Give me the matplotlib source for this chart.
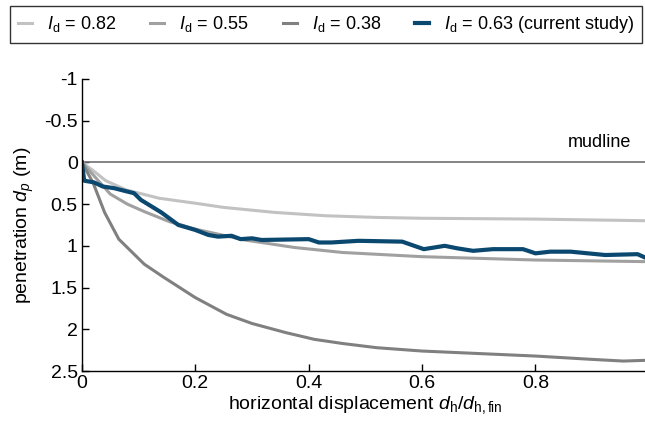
import matplotlib
matplotlib.use('Agg')
import matplotlib.pyplot as plt
from matplotlib.ticker import FuncFormatter

plt.rcParams['font.family'] = ['Liberation Sans', 'DejaVu Sans']
plt.rcParams['mathtext.fontset'] = 'custom'
plt.rcParams['mathtext.rm'] = 'Liberation Sans'
plt.rcParams['mathtext.it'] = 'Liberation Sans:italic'
plt.rcParams['axes.unicode_minus'] = False

# I_d = 0.82
x_082 = [0, 0.02, 0.042, 0.078, 0.136, 0.2, 0.25, 0.34, 0.43, 0.52, 0.6, 0.8, 1.0]
y_082 = [0, 0.1, 0.22, 0.33, 0.43, 0.49, 0.54, 0.6, 0.64, 0.66, 0.67, 0.68, 0.70]

# I_d = 0.55
x_055 = [0, 0.025, 0.05, 0.08, 0.11, 0.154, 0.2, 0.287, 0.375, 0.46, 0.6, 0.8, 1.0]
y_055 = [0, 0.19, 0.38, 0.5, 0.59, 0.71, 0.8, 0.93, 1.02, 1.08, 1.13, 1.17, 1.19]

# I_d = 0.38
x_038 = [0, 0.02, 0.04, 0.065, 0.11, 0.145, 0.2, 0.255, 0.3, 0.36, 0.41, 0.46,
         0.52, 0.6, 0.7, 0.8, 0.9, 0.955, 1.0]
y_038 = [0, 0.25, 0.6, 0.92, 1.22, 1.38, 1.62, 1.82, 1.93, 2.04, 2.12, 2.17,
         2.22, 2.26, 2.29, 2.32, 2.36, 2.38, 2.37]

# I_d = 0.63 (current study)
x_063 = [0, 0.004, 0.021, 0.037, 0.057, 0.08, 0.092, 0.104, 0.128, 0.14, 0.17,
         0.2, 0.223, 0.24, 0.264, 0.28, 0.3, 0.317, 0.4, 0.418, 0.44, 0.488,
         0.565, 0.603, 0.64, 0.662, 0.69, 0.725, 0.778, 0.8, 0.826, 0.862,
         0.923, 0.98, 1.0]
y_063 = [0, 0.22, 0.24, 0.29, 0.31, 0.35, 0.37, 0.45, 0.55, 0.6, 0.75,
         0.81, 0.87, 0.89, 0.88, 0.92, 0.91, 0.93, 0.92, 0.96, 0.96, 0.94,
         0.95, 1.04, 1.0, 1.03, 1.06, 1.04, 1.04, 1.09, 1.07, 1.07,
         1.11, 1.1, 1.16]

labels = [r'$I_\mathrm{d}$ = 0.82', r'$I_\mathrm{d}$ = 0.55',
          r'$I_\mathrm{d}$ = 0.38', r'$I_\mathrm{d}$ = 0.63 (current study)']
colors = ['#c2c2c2', '#a0a0a0', '#808080', '#0b4870']

fig = plt.figure(figsize=(6.45, 4.33), dpi=100)
ax = fig.add_axes([0.127, 0.143, 0.879, 0.675])

ax.plot([0, 1], [0, 0], color='#707070', lw=1.2)
ax.text(0.968, -0.13, 'mudline', ha='right', va='bottom', fontsize=13)

l1, = ax.plot(x_082, y_082, color=colors[0], lw=2.2)
l2, = ax.plot(x_055, y_055, color=colors[1], lw=2.2)
l3, = ax.plot(x_038, y_038, color=colors[2], lw=2.2)
l4, = ax.plot(x_063, y_063, color=colors[3], lw=3.0)

ax.set_xlim(0, 1)
ax.set_ylim(2.5, -1)
ax.set_xticks([0, 0.2, 0.4, 0.6, 0.8, 1.0])
ax.set_yticks([-1, -0.5, 0, 0.5, 1, 1.5, 2, 2.5])
fmt = FuncFormatter(lambda v, p: ('%g' % v))
ax.xaxis.set_major_formatter(fmt)
ax.yaxis.set_major_formatter(fmt)
ax.tick_params(direction='in', length=5, width=1, labelsize=14, pad=3)
for s in ['top', 'right']:
    ax.spines[s].set_visible(False)
for s in ['left', 'bottom']:
    ax.spines[s].set_linewidth(1.0)

ax.set_xlabel(r'horizontal displacement $d_\mathrm{h}/d_\mathrm{h,fin}$', fontsize=14, labelpad=1)
ax.set_ylabel(r'penetration $d_p$ (m)', fontsize=14, labelpad=6)

leg = fig.legend([l1, l2, l3, l4], labels, loc='upper left',
                 bbox_to_anchor=(0.0155, 0.986), ncol=4,
                 handlelength=0.75, handletextpad=0.85, columnspacing=1.9,
                 fontsize=13, frameon=True, fancybox=False, borderpad=0.45,
                 borderaxespad=0)
leg.get_frame().set_edgecolor('black')
leg.get_frame().set_linewidth(1.0)

plt.savefig('out.png', dpi=100)
plt.close()
